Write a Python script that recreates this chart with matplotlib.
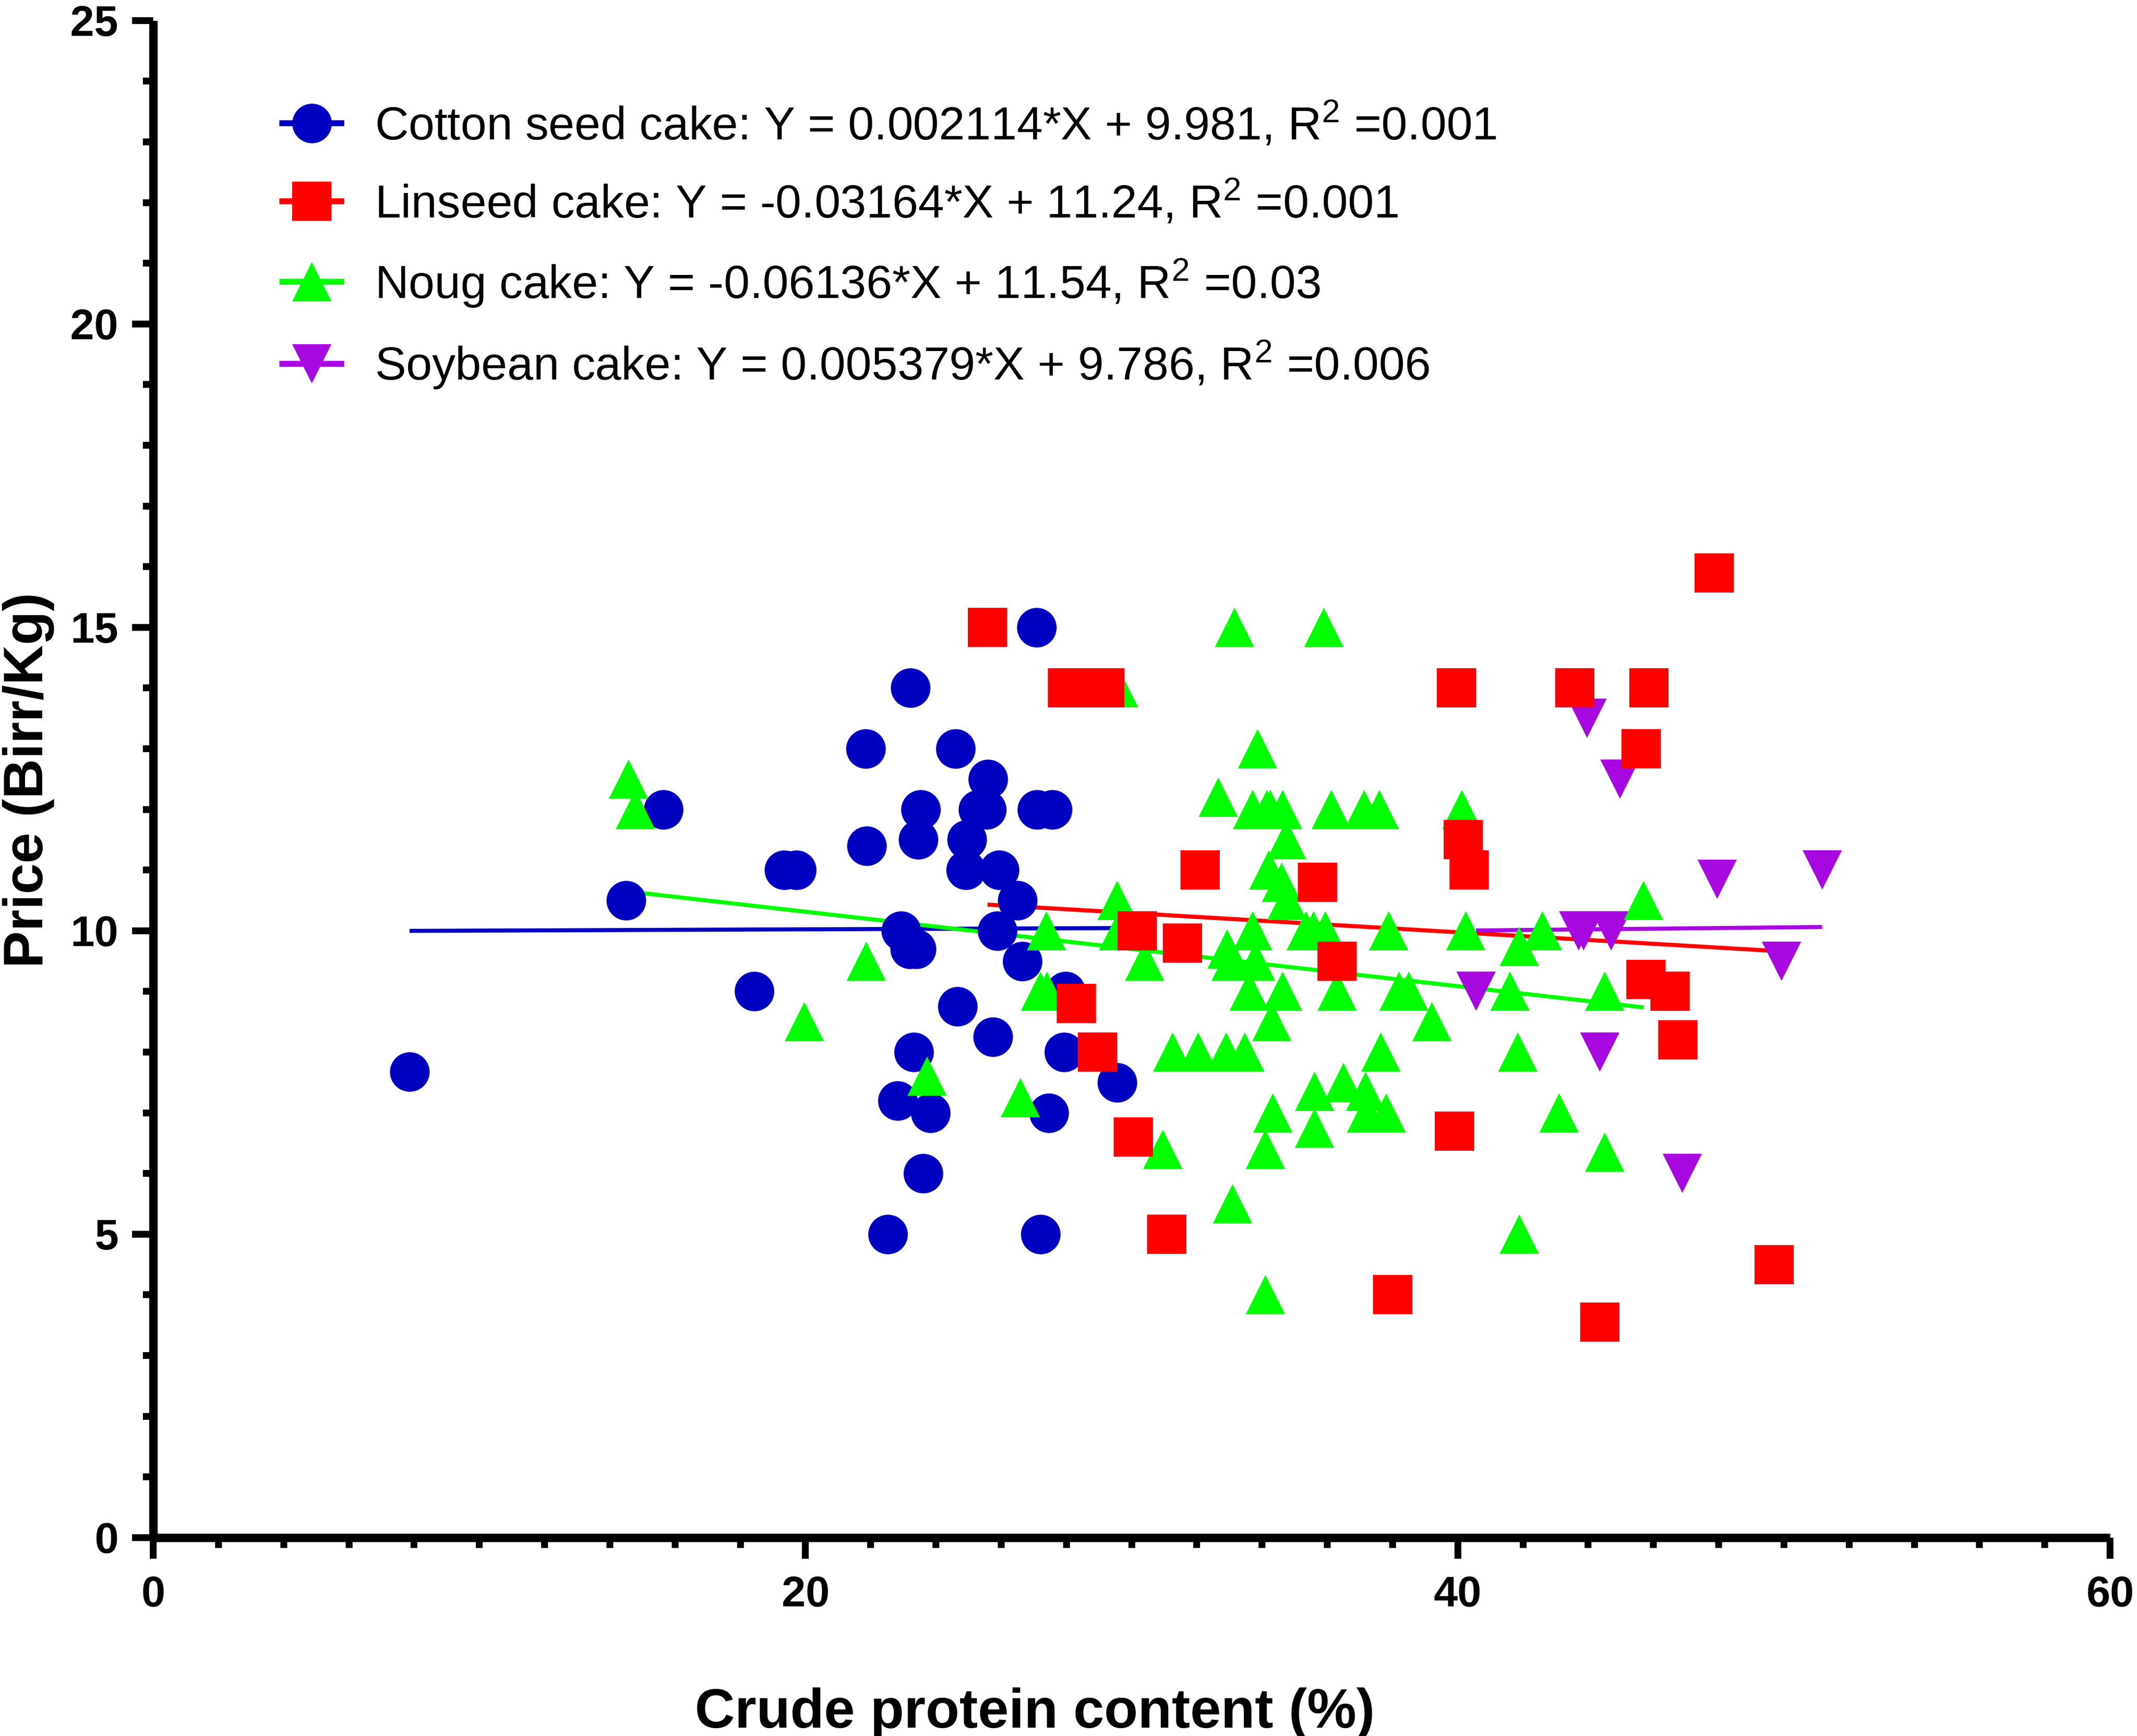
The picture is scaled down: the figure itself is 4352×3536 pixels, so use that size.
import numpy as np
import matplotlib
matplotlib.use('Agg')
import matplotlib.pyplot as plt
from matplotlib.lines import Line2D
from matplotlib.ticker import MultipleLocator

plt.rcParams['font.family'] = ['Liberation Sans', 'DejaVu Sans']
plt.rcParams['mathtext.fontset'] = 'custom'
plt.rcParams['mathtext.rm'] = 'Liberation Sans'
plt.rcParams['mathtext.default'] = 'regular'

# -------------------------------
# data
# -------------------------------
cotton_x = [7.86, 14.5, 15.65, 18.43, 19.35, 19.72, 21.85, 21.88, 22.52, 22.83,
            22.93, 23.2, 23.22, 23.32, 23.4, 23.53, 23.46, 23.6, 23.83, 24.6,
            24.66, 24.95, 24.92, 25.3, 25.55, 25.6, 25.74, 25.94, 25.88, 26.5,
            26.65, 27.08, 27.1, 27.2, 27.46, 27.57, 27.97, 27.93, 29.55]
cotton_y = [7.68, 10.5, 12.0, 9.0, 11.0, 11.0, 13.0, 11.4, 5.0, 7.2,
            10.0, 9.7, 14.0, 8.0, 9.7, 12.0, 11.5, 6.0, 7.0, 13.0,
            8.75, 11.5, 11.0, 12.0, 12.0, 12.5, 8.25, 11.0, 10.0, 10.5,
            9.5, 15.0, 12.0, 5.0, 7.0, 12.0, 9.0, 8.0, 7.5]

linseed_x = [25.58, 28.03, 29.18, 28.3, 28.95, 30.17, 30.05, 31.07, 31.56, 32.1,
             35.7, 36.3, 38.0, 39.9, 39.96, 40.17, 40.35, 43.59, 44.36, 45.62,
             45.86, 45.77, 46.5, 46.75, 47.86, 49.7]
linseed_y = [15.0, 14.0, 14.0, 8.8, 8.0, 10.0, 6.6, 5.0, 9.8, 11.0,
             10.8, 9.5, 4.0, 6.7, 14.0, 11.5, 11.0, 14.0, 3.55, 13.0,
             14.0, 9.2, 9.0, 8.2, 15.9, 4.5]

noug_x = [14.57, 14.78, 19.96, 21.86, 23.73, 26.59, 27.2, 27.4, 27.39, 29.6,
          29.55, 29.6, 30.4, 30.96, 31.26, 32.04, 32.66, 32.93, 33.05, 33.15,
          33.1, 32.9, 33.47, 33.71, 33.71, 33.86, 33.8, 33.6, 34.1, 34.1,
          34.3, 34.33, 34.2, 34.15, 34.25, 34.63, 34.6, 34.63, 34.77, 34.75,
          35.35, 35.6, 35.6, 35.58, 35.9, 35.94, 36.12, 36.3, 36.5, 37.13,
          37.17, 37.2, 37.6, 37.64, 37.8, 37.88, 38.2, 38.5, 39.2, 40.12,
          40.24, 41.6, 41.88, 41.84, 41.88, 42.6, 43.1, 44.5, 44.5, 45.7]
noug_y = [12.5, 12.0, 8.5, 9.5, 7.6, 7.25, 9.0, 9.0, 10.0, 14.0,
          10.5, 10.0, 9.5, 6.4, 8.0, 8.0, 12.2, 9.7, 9.5, 15.0,
          5.5, 8.0, 8.0, 10.0, 12.0, 13.0, 9.5, 9.0, 6.4, 4.0,
          8.5, 7.0, 11.0, 12.0, 12.0, 12.0, 10.8, 9.0, 10.5, 11.5,
          10.0, 7.35, 6.75, 10.0, 15.0, 10.0, 12.0, 9.0, 7.5, 12.0,
          7.35, 7.0, 12.0, 8.0, 7.0, 10.0, 9.0, 9.0, 8.5, 12.0,
          10.0, 9.0, 9.74, 8.0, 5.0, 10.0, 7.0, 9.0, 6.35, 10.5]

soybean_x = [40.56, 43.7, 43.85, 44.7, 43.96, 44.97, 44.35, 46.88, 47.95, 49.92, 51.17]
soybean_y = [9.0, 10.0, 10.0, 10.0, 13.5, 12.5, 8.0, 6.0, 10.85, 9.5, 11.0]

# linear fits as printed in the legend (slope, intercept, R2)
cotton_fit = (0.002114, 9.981, '0.001')
linseed_fit = (-0.03164, 11.24, '0.001')
noug_fit = (-0.06136, 11.54, '0.03')
soybean_fit = (0.005379, 9.786, '0.006')

names = ['Cotton seed cake', 'Linseed cake', 'Noug cake', 'Soybean cake']
xs_all = [cotton_x, linseed_x, noug_x, soybean_x]
ys_all = [cotton_y, linseed_y, noug_y, soybean_y]
fits = [cotton_fit, linseed_fit, noug_fit, soybean_fit]

colors = ['#0000C0', '#FF0000', '#00FF00', '#A808E0']
markers = ['o', 's', '^', 'v']
marker_z = [3, 6, 5, 4]   # red on top, then green, purple, blue

fig = plt.figure(figsize=(10.88, 8.84), dpi=400)
ax = fig.add_axes([0.0717, 0.1143, 0.9157, 0.8739])

handles = []
labels = []
for name, xv, yv, fit, c, m, z in zip(names, xs_all, ys_all, fits, colors, markers, marker_z):
    slope, icpt, r2 = fit
    xl = np.array([min(xv), max(xv)])
    ax.plot(xl, slope * xl + icpt, color=c, lw=1.5, zorder=2, solid_capstyle='butt')
    ax.plot(xv, yv, linestyle='none', marker=m, ms=14.5, mew=0, color=c, zorder=z,
            clip_on=False)
    handles.append(Line2D([], [], color=c, lw=2.2, marker=m, ms=14.5, mew=0))
    labels.append(f'{name}: Y = {slope:g}*X + {icpt:g}, R$^{{2}}$ =' + r2)

ax.set_xlim(0, 60)
ax.set_ylim(0, 25)
ax.xaxis.set_major_locator(MultipleLocator(20))
ax.xaxis.set_minor_locator(MultipleLocator(2))
ax.yaxis.set_major_locator(MultipleLocator(5))
ax.yaxis.set_minor_locator(MultipleLocator(1))

for side in ['top', 'right']:
    ax.spines[side].set_visible(False)
for side in ['left', 'bottom']:
    ax.spines[side].set_linewidth(3.1)
    ax.spines[side].set_capstyle('butt')

ax.tick_params(which='major', direction='out', length=7.8, width=2.5,
               labelsize=15.8)
ax.tick_params(which='minor', direction='out', length=3.8, width=2.5)
ax.tick_params(axis='x', which='major', pad=6)
ax.tick_params(axis='y', which='major', pad=5)
for lab in ax.get_xticklabels() + ax.get_yticklabels():
    lab.set_fontweight('bold')

fig.text(0.4842, 17 / 3536, 'Crude protein content (%)', ha='center', va='baseline',
         fontsize=20.3, fontweight='bold')
fig.text(0.0134, 0.5506, 'Price (Birr/Kg)', ha='center', va='center', rotation=90,
         fontsize=20.3, fontweight='bold')

fig.legend(handles, labels, loc='upper left', bbox_to_anchor=(0.1321, 0.9415),
           frameon=False, fontsize=17.1, handlelength=1.26, handletextpad=0.72,
           labelspacing=0.64, borderpad=0, borderaxespad=0, numpoints=1)

fig.savefig('out.png', dpi=400)
